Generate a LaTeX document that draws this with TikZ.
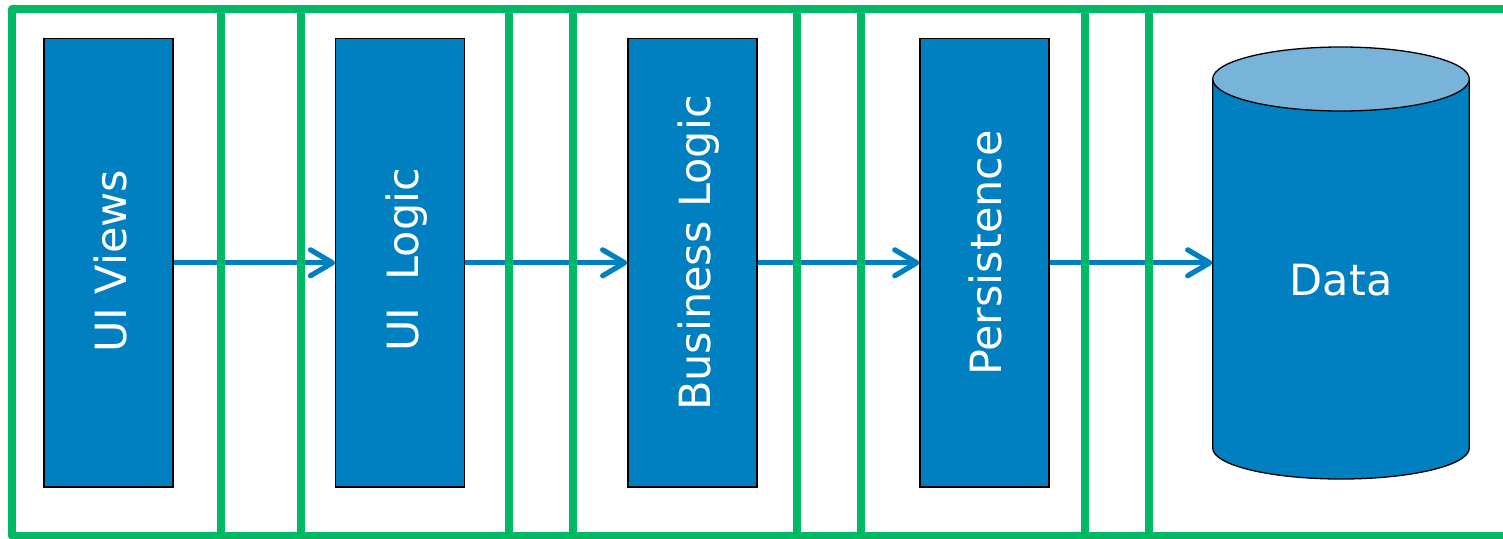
\documentclass[tikz,border=0pt]{standalone}
\usepackage{fontspec}
\setmainfont{DejaVu Sans}
\usetikzlibrary{arrows.meta}
\definecolor{frameGreen}{HTML}{00B964}
\definecolor{layerBlue}{HTML}{0080C0}
\definecolor{topBlue}{HTML}{78B4DA}
\begin{document}
\begin{tikzpicture}[x=0.5pt,y=0.5pt,
  layer/.style={draw=black, line width=0.65pt, fill=layerBlue,
    minimum width=64.5pt, minimum height=224.2pt, inner sep=0pt},
  caption/.style={text=white, inner sep=0pt, anchor=base,
    font=\fontsize{21.5}{26}\selectfont},
  vcaption/.style={caption, rotate=90},
  flow/.style={draw=layerBlue, line width=2.6pt,
    -{Straight Barb[round,length=11pt,width=13pt]}},
  frame/.style={draw=frameGreen, line width=4pt, line join=round}]

\clip (0,0) rectangle (1503,538);
\fill[white] (0,0) rectangle (1503,538);

% layer boxes
\node[layer] (views)   at (108.5,275.2) {};
\node[layer] (uilogic) at (400.2,275.2) {};
\node[layer] (bizlogic) at (692.4,275.2) {};
\node[layer] (persist) at (984.5,275.2) {};

% captions
\node[vcaption] (viewsText)   at (126.7,277) {UI Views};
\node[vcaption] (uilogicText) at (418.3,278) {UI~~Logic};
\node[vcaption] (bizText)     at (710,285) {Business Logic};
\node[vcaption] (persistText) at (1001.7,285) {Persistence};

% data store cylinder
\draw[black, line width=0.65pt, fill=layerBlue]
  (1212.7,459) -- (1212.7,90)
  arc[start angle=180, end angle=360, x radius=128.3, y radius=31]
  -- (1469.3,459) -- cycle;
\draw[black, line width=0.65pt, fill=topBlue]
  (1341,459) ellipse[x radius=128.3, y radius=32];
\node[minimum width=128.3pt, minimum height=184.5pt, inner sep=0pt]
  (db) at (1341,275.2) {};
\node[caption] (dbText) at (1341,243) {Data};

% flow between layers
\draw[flow] (views.east) -- (uilogic.west);
\draw[flow] (uilogic.east) -- (bizlogic.west);
\draw[flow] (bizlogic.east) -- (persist.west);
\draw[flow] (persist.east) -- (db.west);

% tier frames
\draw[frame] (12.3,2.5) rectangle (1540,529);
\foreach \gx in {220.5,300.5,508.5,572.5,796.7,860.5,1084.7,1148.7}
  \draw[frame] (\gx,2.5) -- (\gx,529);
\end{tikzpicture}
\end{document}
